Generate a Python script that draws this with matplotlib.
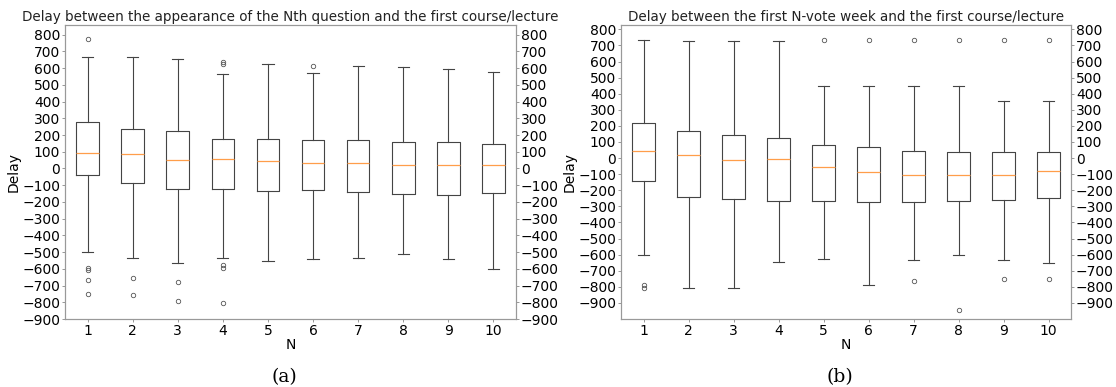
import matplotlib.pyplot as plt
import numpy as np

N = list(range(1, 11))

# (a) delay between the appearance of the Nth question and the first course/lecture
a_whislo = [-500, -534, -564, -534, -552, -540, -536, -514, -544, -600]
a_q1 = [-40, -84, -124, -120, -132, -126, -138, -150, -156, -148]
a_med = [90, 84, 48, 54, 42, 34, 30, 22, 22, 22]
a_q3 = [279, 235, 225, 176, 176, 168, 168, 160, 156, 148]
a_whishi = [665, 669, 655, 563, 625, 569, 613, 609, 597, 579]
a_fliers = [
    [776, -596, -606, -664, -752],
    [-654, -754],
    [-680, -790],
    [637, 625, -578, -598, -806],
    [],
    [615],
    [],
    [],
    [],
    [],
]

# (b) delay between the first N-vote week and the first course/lecture
b_whislo = [-600, -808, -808, -643, -630, -786, -635, -601, -632, -649]
b_q1 = [-143, -242, -257, -268, -268, -270, -270, -268, -263, -251]
b_med = [46, 21, -13, -4, -57, -89, -105, -103, -103, -80]
b_q3 = [215, 167, 141, 127, 82, 68, 44, 38, 38, 38]
b_whishi = [736, 730, 730, 730, 447, 447, 447, 447, 357, 357]
b_fliers = [
    [-790, -810],
    [],
    [],
    [],
    [732],
    [732],
    [732, -761],
    [732, -943],
    [732, -753],
    [732, -753],
]

yticks = np.arange(-900, 900, 100)


def make_stats(whislo, q1, med, q3, whishi, fliers):
    return [
        dict(whislo=wl, q1=a, med=m, q3=b, whishi=wh, fliers=f)
        for wl, a, m, b, wh, f in zip(whislo, q1, med, q3, whishi, fliers)
    ]


def draw(ax, stats, title, ylim):
    line = dict(color="#444444", linewidth=0.8)
    ax.bxp(
        stats,
        positions=N,
        widths=0.5,
        boxprops=line,
        whiskerprops=line,
        capprops=line,
        medianprops=dict(color="#ff9e4a", linewidth=0.9),
        flierprops=dict(marker="o", markersize=3.2, markerfacecolor="none",
                        markeredgecolor="#555555", markeredgewidth=0.6),
    )
    ax.set_xlim(0.5, 10.5)
    ax.set_ylim(*ylim)
    ax.set_yticks(yticks)
    ax.set_xticks(N)
    ax.set_xticklabels([str(n) for n in N])
    ax.set_title(title, fontsize=9.75, pad=3, color="#222222")
    ax.set_xlabel("N", fontsize=10, labelpad=0)
    ax.set_ylabel("Delay", fontsize=10, labelpad=1)
    ax.tick_params(labelsize=10, length=2, width=0.6, color="#888888", pad=1.5)
    for s in ax.spines.values():
        s.set_color("#999999")
        s.set_linewidth(0.8)

    twin = ax.twinx()
    twin.set_ylim(*ylim)
    twin.set_yticks(yticks)
    twin.tick_params(labelsize=10, length=2, width=0.6, color="#888888", pad=1.5)
    for s in twin.spines.values():
        s.set_color("#999999")
        s.set_linewidth(0.8)


fig = plt.figure(figsize=(11.16, 3.87), dpi=100)
ax1 = fig.add_axes([65 / 1116, 0.1757, 451 / 1116, 0.7597])
ax2 = fig.add_axes([621 / 1116, 0.1757, 450 / 1116, 0.7597])

draw(ax1, make_stats(a_whislo, a_q1, a_med, a_q3, a_whishi, a_fliers),
     "Delay between the appearance of the Nth question and the first course/lecture",
     (-900, 858))
draw(ax2, make_stats(b_whislo, b_q1, b_med, b_q3, b_whishi, b_fliers),
     "Delay between the first N-vote week and the first course/lecture",
     (-1000, 827))

fig.text(284 / 1116, 1 - 377 / 387, "(a)", ha="center", va="center",
         fontsize=13.5, family="DejaVu Serif")
fig.text(840 / 1116, 1 - 377 / 387, "(b)", ha="center", va="center",
         fontsize=13.5, family="DejaVu Serif")

fig.savefig("out.png", dpi=100)
